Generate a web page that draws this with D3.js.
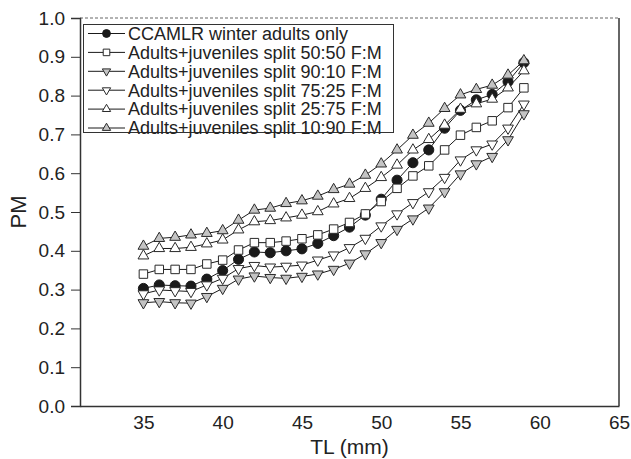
<!DOCTYPE html>
<html><head><meta charset="utf-8">
<script src="https://cdn.jsdelivr.net/npm/d3@7"></script>
<style>html,body{margin:0;padding:0;background:#fff;}svg{display:block;}</style>
</head><body>
<svg id="chart" width="631" height="459"></svg>
<script>
const tl = [35,36,37,38,39,40,41,42,43,44,45,46,47,48,49,50,51,52,53,54,55,56,57,58,59];
const ccamlr   = [0.303,0.312,0.310,0.309,0.327,0.349,0.378,0.397,0.395,0.400,0.405,0.419,0.439,0.461,0.492,0.533,0.582,0.627,0.660,0.716,0.762,0.789,0.803,0.836,0.885];
const split5050 = [0.340,0.352,0.352,0.352,0.366,0.376,0.402,0.421,0.421,0.425,0.431,0.441,0.456,0.473,0.495,0.527,0.561,0.593,0.619,0.660,0.698,0.718,0.735,0.769,0.820];
const split9010 = [0.266,0.269,0.266,0.265,0.282,0.303,0.327,0.335,0.331,0.329,0.334,0.340,0.352,0.368,0.392,0.421,0.455,0.482,0.510,0.552,0.598,0.624,0.643,0.686,0.753];
const split7525 = [0.289,0.299,0.297,0.295,0.312,0.329,0.354,0.362,0.358,0.360,0.363,0.376,0.389,0.408,0.432,0.464,0.495,0.524,0.552,0.589,0.634,0.660,0.675,0.716,0.778];
const split2575 = [0.387,0.406,0.406,0.409,0.418,0.428,0.454,0.475,0.478,0.485,0.492,0.501,0.521,0.535,0.561,0.589,0.621,0.660,0.687,0.724,0.765,0.779,0.791,0.820,0.864];
const split1090 = [0.412,0.432,0.435,0.441,0.445,0.452,0.479,0.505,0.510,0.522,0.529,0.541,0.558,0.572,0.595,0.624,0.660,0.698,0.729,0.767,0.802,0.816,0.827,0.853,0.890];
const seriesNames = ["CCAMLR winter adults only","Adults+juveniles split 50:50 F:M","Adults+juveniles split 90:10 F:M","Adults+juveniles split 75:25 F:M","Adults+juveniles split 25:75 F:M","Adults+juveniles split 10:90 F:M"];
const xTicks = [35,40,45,50,55,60,65];
const yTicks = [0,0.1,0.2,0.3,0.4,0.5,0.6,0.7,0.8,0.9,1.0];
const xLabel = "TL (mm)";
const yLabel = "PM";

const styles = [
  {shape:"circle", fill:"#1a1a1a"},
  {shape:"square", fill:"#ffffff"},
  {shape:"down", fill:"#c4c4c4"},
  {shape:"down", fill:"#ffffff"},
  {shape:"up", fill:"#ffffff"},
  {shape:"up", fill:"#c4c4c4"}
];
const seriesVals = [ccamlr, split5050, split9010, split7525, split2575, split1090];

const svg = d3.select("#chart");
const L = 80, R = 619, T = 18, B = 406;
const x = d3.scaleLinear().domain([31,65]).range([L,R]);
const y = d3.scaleLinear().domain([0,1]).range([B,T]);
const font = "'Liberation Sans', Arial, Helvetica, sans-serif";

function markerPath(shape, k){
  if (shape === "circle") return d3.symbol(d3.symbolCircle, 80*k)();
  if (shape === "square") return d3.symbol(d3.symbolSquare, 72*k)();
  return d3.symbol(d3.symbolTriangle, 50*k)();
}
function drawMarker(g, shape, fill, cx, cy, k){
  g.append("path")
    .attr("d", markerPath(shape, k))
    .attr("transform", `translate(${cx},${cy})` + (shape === "down" ? " rotate(180)" : ""))
    .attr("fill", fill)
    .attr("stroke", shape === "circle" ? "#1a1a1a" : "#2a2a2a")
    .attr("stroke-width", 1);
}

// frame: dashed top, solid right
svg.append("line").attr("x1",L).attr("x2",R).attr("y1",T).attr("y2",T)
  .attr("stroke","#666").attr("stroke-width",1).attr("stroke-dasharray","3,2");
svg.append("line").attr("x1",R).attr("x2",R).attr("y1",T).attr("y2",B)
  .attr("stroke","#333").attr("stroke-width",1.5);

// axes
const yAxis = d3.axisLeft(y).tickValues(yTicks).tickFormat(d3.format(".1f")).tickSize(9).tickPadding(6);
const gy = svg.append("g").attr("transform",`translate(${L},0)`).call(yAxis);
gy.select(".domain").attr("stroke","#333").attr("stroke-width",1.5);
gy.selectAll(".tick line").attr("stroke","#333");
gy.selectAll("text").attr("font-family",font).attr("font-size",19).attr("fill","#222");

const xAxis = d3.axisBottom(x).tickValues(xTicks).tickFormat(d3.format("d")).tickSize(0).tickPadding(10);
const gx = svg.append("g").attr("transform",`translate(0,${B})`).call(xAxis);
gx.select(".domain").attr("stroke","#333").attr("stroke-width",1.5);
gx.selectAll("text").attr("font-family",font).attr("font-size",19).attr("fill","#222");

svg.append("text").attr("x",(L+R)/2).attr("y",454).attr("text-anchor","middle")
  .attr("font-family",font).attr("font-size",21).attr("fill","#222").text(xLabel);
svg.append("text").attr("transform",`translate(26,${(T+B)/2}) rotate(-90)`).attr("text-anchor","middle")
  .attr("font-family",font).attr("font-size",22).attr("fill","#222").text(yLabel);

// series
const line = d3.line().x(d=>x(d[0])).y(d=>y(d[1]));
seriesVals.forEach((vals,i)=>{
  const pts = tl.map((t,j)=>[t, vals[j]]);
  const g = svg.append("g");
  g.append("path").attr("d", line(pts)).attr("fill","none").attr("stroke","#1a1a1a").attr("stroke-width",1);
  pts.forEach(p=>drawMarker(g, styles[i].shape, styles[i].fill, x(p[0]), y(p[1]), 1));
});

// legend
const lg = svg.append("g");
lg.append("rect").attr("x",83.5).attr("y",24.5).attr("width",310).attr("height",108)
  .attr("fill","#fff").attr("stroke","#333").attr("stroke-width",1);
seriesNames.forEach((name,i)=>{
  const cy = 33.5 + i*18.9;
  lg.append("line").attr("x1",88).attr("x2",125).attr("y1",cy).attr("y2",cy).attr("stroke","#1a1a1a").attr("stroke-width",1);
  drawMarker(lg, styles[i].shape, styles[i].fill, 106.5, cy, 0.6);
  lg.append("text").attr("x",128).attr("y",cy).attr("dy","0.35em").attr("font-family",font).attr("font-size",18).attr("fill","#222").text(name);
});
</script>
</body></html>
